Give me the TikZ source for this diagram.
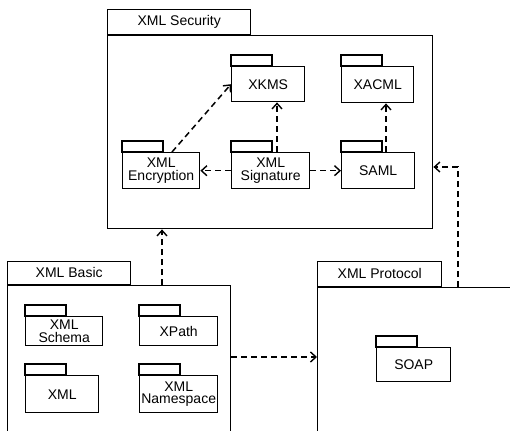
\documentclass[tikz,border=0pt]{standalone}
\usepackage{fontspec}
\setmainfont{Liberation Sans}
\usetikzlibrary{arrows.meta}
\newcommand\pkgtab[1]{\draw[tabline] (#1.north west) rectangle ++(41,-11);}
\begin{document}
\begin{tikzpicture}[x=1pt,y=-1pt,
  tabline/.style={line width=1.4pt},
  box/.style={draw, line width=1.4pt, inner sep=0pt, anchor=north west, align=center,
    font=\fontsize{14}{12.5}\selectfont},
  bigtab/.style={box, anchor=south west},
  dep/.style={line width=1.5pt, dash pattern=on 6pt off 4pt,
    -{Straight Barb[length=5.5pt,width=10pt,line width=1.4pt]}}
]
\useasboundingbox (0,0) rectangle (510,430);
\clip (0,0) rectangle (510,430);

% XML Security
\node[box, minimum width=325, minimum height=193] (sec) at (107,35) {};
\node[bigtab, minimum width=143, minimum height=25] (sectab) at (sec.north west) {XML Security};
\node[box, minimum width=73, minimum height=35] (xkms) at (231,66) {XKMS};
\node[box, minimum width=72, minimum height=36] (xacml) at (341,66) {XACML};
\node[box, minimum width=77, minimum height=36] (enc) at (122,152) {XML\\Encryption};
\node[box, minimum width=78, minimum height=36] (sig) at (231,152) {XML\\Signature};
\node[box, minimum width=73, minimum height=36] (saml) at (341,152) {SAML};
\pkgtab{xkms}\pkgtab{xacml}\pkgtab{enc}\pkgtab{sig}\pkgtab{saml}

% XML Basic
\node[box, minimum width=223, minimum height=160] (basic) at (7,285) {};
\node[bigtab, minimum width=123, minimum height=23] (basictab) at (basic.north west) {XML Basic};
\node[box, minimum width=77, minimum height=29] (schema) at (25,316) {XML\\Schema};
\node[box, minimum width=78, minimum height=29] (xpath) at (139,316) {XPath};
\node[box, minimum width=73, minimum height=37] (xml) at (25,375) {XML};
\node[box, minimum width=78, minimum height=37] (ns) at (139,375) {XML\\Namespace};
\pkgtab{schema}\pkgtab{xpath}\pkgtab{xml}\pkgtab{ns}

% XML Protocol
\node[box, minimum width=250, minimum height=160] (prot) at (317,287) {};
\node[bigtab, minimum width=124, minimum height=25] (prottab) at (prot.north west) {XML Protocol};
\node[box, minimum width=74, minimum height=34] (soap) at (376,347) {SOAP};
\pkgtab{soap}

% helper coordinates
\coordinate (cx277) at (277,0);
\coordinate (cx386) at (386,0);
\coordinate (cx172) at (172,0);
\coordinate (cx162) at (162,0);
\coordinate (cy357) at (0,357);
\coordinate (p1) at (458,167);

% dependencies
\draw[dep] (sig.west) -- (enc.east);
\draw[dep] (sig.east) -- (saml.west);
\draw[dep] (cx277 |- sig.north) -- (cx277 |- xkms.south);
\draw[dep] (cx386 |- saml.north) -- (cx386 |- xacml.south);
\draw[dep] (cx172 |- enc.north) -- (xkms.west);
\draw[dep] (cx162 |- basic.north) -- (cx162 |- sec.south);
\draw[dep] (cy357 -| basic.east) -- (cy357 -| prot.west);
\draw[dep] (p1 |- prot.north) -- (p1) -- (p1 -| sec.east);
\end{tikzpicture}
\end{document}
